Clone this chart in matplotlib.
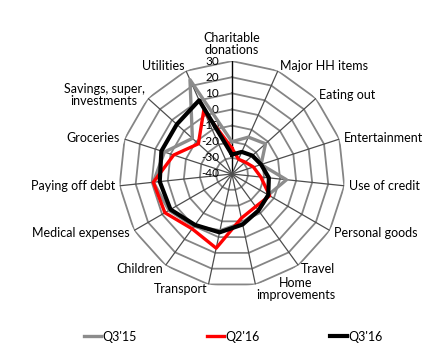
import numpy as np
import matplotlib
matplotlib.use("Agg")
import matplotlib.pyplot as plt
from matplotlib.transforms import offset_copy

plt.rcParams['font.family'] = ['Lato', 'DejaVu Sans']

# categories, clockwise from the top
categories = ["Charitable\ndonations", "Major HH items", "Eating out", "Entertainment",
              "Use of credit", "Personal goods", "Travel", "Home\nimprovements",
              "Transport", "Children", "Medical expenses", "Paying off debt",
              "Groceries", "Savings, super,\ninvestments", "Utilities"]

q3_15 = [-20, -15, -12, -21, -6, -14, -12, -9, -4, 0, 5, 9, 4, -7, 24]
q2_16 = [-24, -30, -29, -26, -22, -13, -15, -12, 7, 2, 8, 9, -2, -12, 3]
q3_16 = [-28, -25, -23, -21, -17, -14, -12, -8, -3, -1, 4, 5, 6, 6, 10]

series_names = ["Q3'15", "Q2'16", "Q3'16"]
ticks = [-40, -30, -20, -10, 0, 10, 20, 30]

n = len(categories)
angles = np.arange(n) * 2 * np.pi / n
closed = np.append(angles, angles[0])

fig = plt.figure(figsize=(4.36, 3.64), dpi=100)
ax = fig.add_axes([0.532 - 0.259, 0.522 - 0.3105, 0.518, 0.621], projection='polar')
ax.set_theta_zero_location('N')
ax.set_theta_direction(-1)
ax.set_ylim(-40, 30)
ax.grid(False)
ax.spines['polar'].set_visible(False)
ax.set_xticks([])
ax.set_yticks([])
ax.patch.set_visible(False)

# polygon grid
for v in ticks[1:]:
    ax.plot(closed, [v] * (n + 1), color='#858585', lw=1.3, zorder=1)
for i, a in enumerate(angles):
    ax.plot([a, a], [-40, 30], color='black' if i == 0 else '#4d4d4d',
            lw=1.0 if i == 0 else 0.9, zorder=1)

# tick labels left of the top spoke
trans = offset_copy(ax.transData, fig=fig, x=-13, y=0, units='dots')
for v in ticks:
    ax.text(0, v, str(v), transform=trans, ha='right', va='center', fontsize=8.5, zorder=2)

# category labels
for a, lab in zip(angles, categories):
    s = np.sin(a)
    if s > 0.1:
        ha = 'left'
    elif s < -0.1:
        ha = 'right'
    else:
        ha = 'center'
    va = 'bottom' if np.cos(a) > 0.95 else 'center'
    ax.text(a, 33, lab, ha=ha, va=va, fontsize=9, multialignment='center',
            linespacing=1.0)

colors = ['#8c8c8c', '#ff0000', '#000000']
widths = [2.4, 2.4, 3.0]
for vals, name, c, w in zip([q3_15, q2_16, q3_16], series_names, colors, widths):
    ax.plot(closed, vals + vals[:1], color=c, lw=w, label=name, zorder=3)

fig.legend(loc='center', bbox_to_anchor=(0.535, 0.075), ncol=3, frameon=False,
           fontsize=9, handlelength=1.4, handletextpad=0.1, columnspacing=5.6)

fig.savefig('out.png', dpi=100)
